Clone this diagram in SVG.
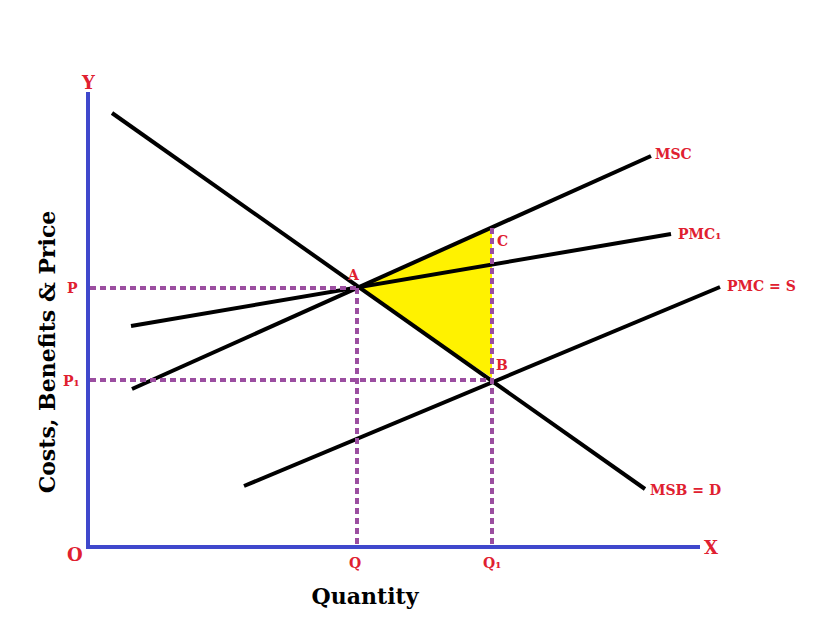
<svg xmlns="http://www.w3.org/2000/svg" width="832" height="627" viewBox="0 0 832 627">
<style>
.lbl{font-family:"DejaVu Serif",serif;font-weight:bold;fill:#e02030;font-size:14px}
.big{font-family:"DejaVu Serif",serif;font-weight:bold;fill:#e02030;font-size:18px}
.title{font-family:"DejaVu Serif",serif;font-weight:bold;fill:#000;font-size:22px}
.curve{stroke:#000;stroke-width:4;fill:none}
.dash{stroke:#9b4ea0;stroke-width:4;stroke-dasharray:6 4;fill:none}
.axis{stroke:#3f48cc;stroke-width:4;fill:none}
</style>
<rect width="832" height="627" fill="#fff"/>
<g id="area"><polygon points="357,288 492,228 492,378" fill="#fff200"/></g>
<g id="connectors">
<line class="curve" x1="112" y1="113" x2="645" y2="489"/>
<line class="curve" x1="132" y1="389" x2="651" y2="156"/>
<line class="curve" x1="131" y1="326" x2="671" y2="234"/>
<line class="curve" x1="244" y1="486" x2="720" y2="287"/>
<line class="dash" x1="90" y1="288" x2="357" y2="288"/>
<line class="dash" x1="90" y1="380" x2="492" y2="380"/>
<line class="dash" x1="357" y1="288" x2="357" y2="545"/>
<line class="dash" x1="492" y1="228" x2="492" y2="545"/>
<polyline class="axis" points="88,92 88,547 700,547"/>
</g>
<g id="labels">
<text class="big" x="82" y="89">Y</text>
<text class="big" x="67" y="561">O</text>
<text class="big" x="704" y="554">X</text>
<text class="lbl" x="655" y="159">MSC</text>
<text class="lbl" x="678" y="239">PMC₁</text>
<text class="lbl" x="727" y="291">PMC = S</text>
<text class="lbl" x="650" y="495">MSB = D</text>
<text class="lbl" x="348" y="280">A</text>
<text class="lbl" x="496" y="370">B</text>
<text class="lbl" x="497" y="246">C</text>
<text class="lbl" x="67" y="293">P</text>
<text class="lbl" x="63" y="386">P₁</text>
<text class="lbl" x="349" y="568">Q</text>
<text class="lbl" x="483" y="568">Q₁</text>
<text class="title" x="365" y="604" text-anchor="middle">Quantity</text>
<text class="title" transform="translate(55,352) rotate(-90)" text-anchor="middle">Costs, Benefits &amp; Price</text>
</g>
</svg>
